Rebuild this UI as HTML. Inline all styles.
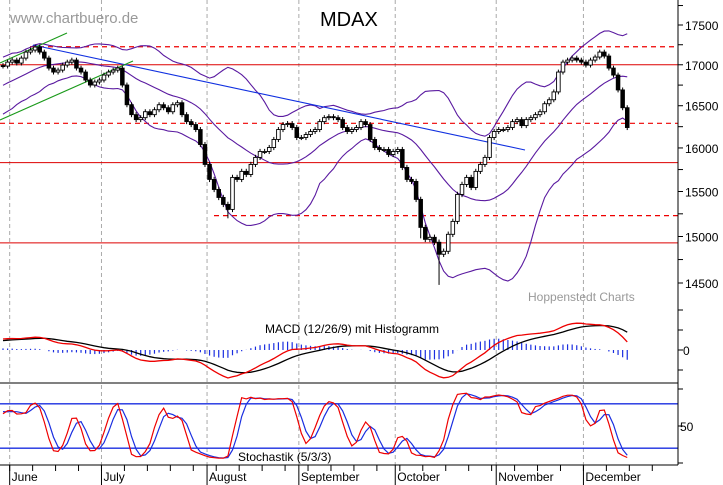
<!DOCTYPE html>
<html><head><meta charset="utf-8"><style>
body{margin:0;background:#fff}
svg{display:block;font-family:"Liberation Sans",sans-serif}
</style></head><body>
<svg id="c" width="723" height="485" viewBox="0 0 723 485" xmlns="http://www.w3.org/2000/svg">
<rect x="0" y="0" width="723" height="485" fill="#fff"/>
<g id="grid"></g>
<g id="levels"></g>
<g id="bands"></g>
<g id="trend"></g>
<g id="candles"></g>
<g id="macd"></g>
<g id="stoch"></g>
<g id="axes"></g>
<text x="10" y="23" font-size="15" fill="#999">www.chartbuero.de</text>
<text x="320" y="26" font-size="20" fill="#000">MDAX</text>
<text x="528" y="301" font-size="12" fill="#999">Hoppenstedt Charts</text>
<text x="265" y="333" font-size="12" fill="#000">MACD (12/26/9) mit Histogramm</text>
<text x="238" y="461" font-size="12" fill="#000">Stochastik (5/3/3)</text>
</svg>
<script>
const warmupCloses=[16420,16460,16500,16480,16550,16600,16580,16650,16700,16680,16740,16800,16780,16850,16900,16880,16930,16960,16940,16990];
const closes=[16984,17033,17058,17021,17083,17158,17183,17221,17158,17083,16959,16910,16934,16996,17033,17058,16959,16910,16812,16751,16788,16812,16873,16910,16934,16959,16751,16512,16393,16334,16357,16428,16393,16452,16512,16476,16428,16512,16536,16393,16310,16275,16216,16040,15809,15637,15523,15433,15355,15299,15660,15637,15729,15694,15809,15890,15959,15959,16005,16099,16216,16275,16287,16240,16122,16122,16157,16193,16216,16310,16357,16369,16357,16334,16240,16193,16216,16240,16310,16275,16099,16005,15982,15982,15924,15959,15982,15774,15637,15614,15411,15100,14969,14991,14937,14807,14839,15024,15166,15467,15580,15660,15546,15729,15809,15890,16122,16193,16216,16216,16240,16310,16334,16263,16334,16357,16393,16428,16524,16572,16667,16910,17033,17058,17083,17058,17033,16996,17058,17096,17158,17108,16959,16873,16691,16476,16240];
const lowOverrides={95:14480,91:14980,49:15200};
const priceTicks=[17500,17000,16500,16000,15500,15000,14500];
const levelSolid=[17000,15830,14930];
const levelDashed=[17225,16290,15230];
const months=["June","July","August","September","October","November","December"];
const monthStartIdx=[2,22,45,65,86,108,127];

const NS="http://www.w3.org/2000/svg";
function mk(tag,attrs,parent){const e=document.createElementNS(NS,tag);for(const k in attrs)e.setAttribute(k,attrs[k]);parent.appendChild(e);return e;}
const X0=3,DX=4.59,RIGHT=678,WICK=55;
const xOf=i=>X0+i*DX;
const yP=p=>25+1372*Math.log(17500/p);
const all=warmupCloses.concat(closes);const W=warmupCloses.length;
const opens=closes.map((c,i)=>i===0?warmupCloses[W-1]:closes[i-1]);
const highs=closes.map((c,i)=>Math.max(c,opens[i])+WICK);
const lows=closes.map((c,i)=>lowOverrides[i]!==undefined?lowOverrides[i]:Math.min(c,opens[i])-WICK);

const grid=document.getElementById('grid');
const gridX=monthStartIdx.map(i=>xOf(i)-2.5);
gridX.forEach((x,k)=>{const l=mk('line',{x1:x,x2:x,y1:0,y2:465,stroke:'#aaa','stroke-dasharray':'4,3','stroke-width':1},grid);
});

const lv=document.getElementById('levels');
levelSolid.forEach(p=>{const l=mk('line',{x1:0,x2:RIGHT,y1:yP(p),y2:yP(p),stroke:'#d00','stroke-width':1},lv);
});
levelDashed.forEach((p,k)=>{const l=mk('line',{x1:k==0?30:(k==2?214:0),x2:RIGHT,y1:yP(p),y2:yP(p),stroke:'#e00','stroke-width':1.2,'stroke-dasharray':'5,4'},lv);
});

const bd=document.getElementById('bands');
let up=[],mid=[],lo=[];
for(let i=0;i<closes.length;i++){const j=W+i;const win=all.slice(Math.max(0,j-19),j+1);
const m=win.reduce((a,b)=>a+b,0)/win.length;const sd=Math.sqrt(win.reduce((a,b)=>a+(b-m)*(b-m),0)/win.length);
up.push(m+2*sd);mid.push(m);lo.push(m-2*sd);}
[[up,'bollinger-upper'],[mid,'bollinger-middle'],[lo,'bollinger-lower']].forEach(([arr,n])=>{
const p=mk('polyline',{points:arr.map((v,i)=>xOf(i)+','+yP(v).toFixed(1)).join(' '),fill:'none',stroke:'#5a1aa0','stroke-width':1.1},bd);
});

const tr=document.getElementById('trend');
[[33,45,525,150,'#1030e0'],[0,120,133,61,'#1a9a1a'],[0,63,67,33,'#1a9a1a']].forEach(t=>{
const l=mk('line',{x1:t[0],y1:t[1],x2:t[2],y2:t[3],stroke:t[4],'stroke-width':1.1},tr);
});

const cg=document.getElementById('candles');
closes.forEach((c,i)=>{const x=xOf(i),o=opens[i];
const w=mk('line',{x1:x,x2:x,y1:yP(Math.max(c,o)+30),y2:yP(lowOverrides[i]!==undefined?lowOverrides[i]:Math.min(c,o)-30),stroke:'#000','stroke-width':1},cg);

const t=Math.min(yP(o),yP(c)),h=Math.max(1,Math.abs(yP(o)-yP(c)));
const r=mk('rect',{x:x-1.8,y:t,width:3.6,height:h,fill:c>=o?'#fff':'#000',stroke:'#000','stroke-width':0.9},cg);
});

function ema(arr,n){const k=2/(n+1);let out=[];let e=arr[0];arr.forEach((v,i)=>{e=i?v*k+e*(1-k):v;out.push(e);});return out;}
const e12=ema(all,12),e26=ema(all,26);const macdAll=all.map((v,i)=>e12[i]-e26[i]);const sigAll=ema(macdAll,9);
const macdV=macdAll.slice(W),sigV=sigAll.slice(W);
const mmax=Math.max(...macdV.map(Math.abs),...sigV.map(Math.abs));
const ZERO=350,ms=28/mmax;const yM=v=>ZERO-v*ms;
const mg=document.getElementById('macd');
macdV.forEach((v,i)=>{const h=(v-sigV[i])*1.0;const b=mk('line',{x1:xOf(i),x2:xOf(i),y1:ZERO,y2:yM(h),stroke:'#1a2ee0','stroke-width':1.2},mg);
});
const ps=mk('polyline',{points:sigV.map((v,i)=>xOf(i)+','+yM(v).toFixed(1)).join(' '),fill:'none',stroke:'#000','stroke-width':1.3},mg);

const pm=mk('polyline',{points:macdV.map((v,i)=>xOf(i)+','+yM(v).toFixed(1)).join(' '),fill:'none',stroke:'#e00','stroke-width':1.3},mg);


const allH=warmupCloses.map(c=>c+WICK).concat(highs),allL=warmupCloses.map(c=>c-WICK).concat(lows);
let fk=all.map((c,j)=>{const hh=Math.max(...allH.slice(Math.max(0,j-4),j+1)),ll=Math.min(...allL.slice(Math.max(0,j-4),j+1));return 100*(c-ll)/(hh-ll||1);});
const sma=(a,n)=>a.map((v,i)=>{const w=a.slice(Math.max(0,i-n+1),i+1);return w.reduce((x,y)=>x+y,0)/w.length;});
const kS=sma(fk,3).slice(W),dS=sma(sma(fk,3),3).slice(W);
const yS=v=>463-v*0.74;
const sg=document.getElementById('stoch');
[80,20].forEach(v=>{const l=mk('line',{x1:0,x2:RIGHT,y1:yS(v),y2:yS(v),stroke:'#1a2ee0','stroke-width':1.3},sg);
});
const pd=mk('polyline',{points:dS.map((v,i)=>xOf(i)+','+yS(v).toFixed(1)).join(' '),fill:'none',stroke:'#1a2ee0','stroke-width':1.2},sg);

const pk=mk('polyline',{points:kS.map((v,i)=>xOf(i)+','+yS(v).toFixed(1)).join(' '),fill:'none',stroke:'#e00','stroke-width':1.2},sg);


const ax=document.getElementById('axes');
function ln(a,n){const l=mk('line',Object.assign({stroke:'#000','stroke-width':1},a),ax);return l;}
ln({x1:RIGHT,x2:RIGHT,y1:0,y2:465},'right-axis-line');
ln({x1:0,x2:RIGHT,y1:383,y2:383},'panel-separator');
ln({x1:0,x2:RIGHT,y1:465,y2:465},'x-axis-line');
for(let p=17750;p>=14400;p-=250){ln({x1:RIGHT,x2:RIGHT+5,y1:yP(p),y2:yP(p)},'price-tick');}
priceTicks.forEach(p=>{const t=mk('text',{x:685,y:yP(p)+5,'font-size':12,fill:'#000'},ax);t.textContent=p;
});
[310,330,350,370].forEach(y=>ln({x1:RIGHT,x2:RIGHT+5,y1:y,y2:y},'macd-tick'));
const z=mk('text',{x:683,y:355,'font-size':12,fill:'#000'},ax);z.textContent='0';
[100,50,0].forEach(v=>ln({x1:RIGHT,x2:RIGHT+5,y1:yS(v),y2:yS(v)},'stochastic-tick'));
const f=mk('text',{x:680,y:431,'font-size':12,fill:'#000'},ax);f.textContent='50';
for(let i=2;i<closes.length+6;i+=5){ln({x1:xOf(i)-2.5,x2:xOf(i)-2.5,y1:465,y2:471},'week-tick');}
months.forEach((m,k)=>{ln({x1:gridX[k],x2:gridX[k],y1:465,y2:485},'month-tick');
const t=mk('text',{x:gridX[k]+2,y:481,'font-size':12,fill:'#000'},ax);t.textContent=m;
});
</script>
</body></html>
